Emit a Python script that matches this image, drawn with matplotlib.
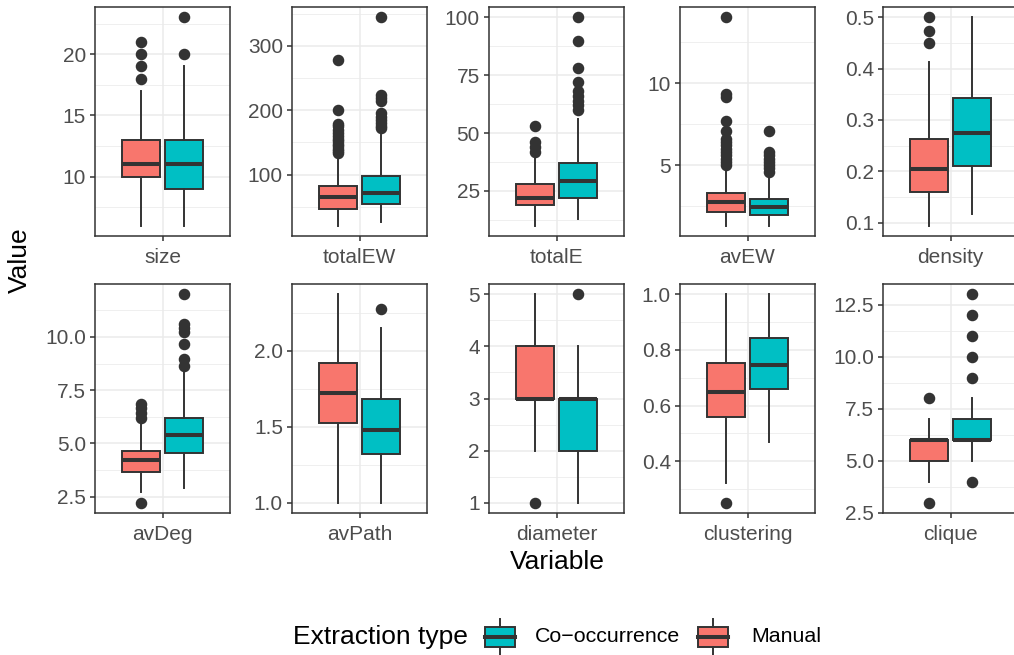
import matplotlib
matplotlib.use('Agg')
import matplotlib.pyplot as plt
from matplotlib.ticker import MultipleLocator, FormatStrFormatter
from matplotlib.patches import Rectangle

plt.rcParams['font.family'] = ['Liberation Sans', 'DejaVu Sans']

MANUAL_COL = '#F8766D'
COOC_COL = '#00BFC4'
LINE_COL = '#333333'

variables = ['size', 'totalEW', 'totalE', 'avEW', 'density',
             'avDeg', 'avPath', 'diameter', 'clustering', 'clique']

# box summaries, Manual extraction
manual_lo = [6, 21, 10, 1.32, 0.094, 2.7, 1.0, 2, 0.322, 4]
manual_q1 = [10, 47, 19, 2.15, 0.160, 3.68, 1.525, 3, 0.558, 5]
manual_med = [11, 65, 22, 2.77, 0.204, 4.21, 1.726, 3, 0.648, 6]
manual_q3 = [13, 82, 28, 3.32, 0.2625, 4.65, 1.92, 4, 0.752, 6]
manual_hi = [17, 130, 40, 4.8, 0.414, 5.95, 2.373, 5, 1.0, 7]
manual_out = [[18, 19, 20, 21],
              [133, 136, 140, 144, 148, 152, 156, 160, 165, 170, 175, 178, 200, 278],
              [42, 44, 46, 53],
              [5.0, 5.2, 5.4, 5.6, 5.8, 6.0, 6.2, 6.4, 6.6, 7.1, 7.7, 9.15, 9.35, 14.0],
              [0.45, 0.474, 0.5],
              [2.22, 6.19, 6.42, 6.66, 6.85],
              [],
              [1],
              [0.251],
              [3, 8]]

# box summaries, Co-occurrence extraction
cooc_lo = [6, 27, 13, 1.32, 0.117, 2.89, 1.0, 1, 0.468, 5]
cooc_q1 = [9, 55, 22, 1.96, 0.21, 4.54, 1.318, 2, 0.658, 6]
cooc_med = [11, 72, 29.3, 2.47, 0.275, 5.4, 1.48, 3, 0.746, 6]
cooc_q3 = [13, 98.5, 37, 2.91, 0.343, 6.19, 1.682, 3, 0.844, 7]
cooc_hi = [19, 162, 56, 4.45, 0.5, 8.42, 2.15, 4, 1.0, 8]
cooc_out = [[20, 23],
            [172, 176, 180, 185, 190, 196, 215, 219, 224, 344],
            [60, 62, 64, 66, 68, 72, 78, 90, 100],
            [4.6, 4.8, 5.0, 5.2, 5.4, 5.6, 5.8, 7.1],
            [],
            [8.65, 8.98, 9.67, 10.22, 10.43, 10.6, 12.0],
            [2.278],
            [5],
            [],
            [4, 9, 10, 11, 12, 13]]

tick_step = [5, 100, 25, 5, 0.1, 2.5, 0.5, 1, 0.2, 2.5]
tick_fmt = ['%d', '%d', '%d', '%d', '%.1f', '%.1f', '%.1f', '%d', '%.1f', '%.1f']

W, H = 1014, 655
col_left = [95, 292, 489, 680, 883]
row_top = [7, 284]
pw, ph = 135, 229

fig = plt.figure(figsize=(W / 100, H / 100), dpi=100)

for i, var in enumerate(variables):
    r, c = divmod(i, 5)
    ax = fig.add_axes([col_left[c] / W, 1 - (row_top[r] + ph) / H, pw / W, ph / H])

    stats = [
        dict(med=manual_med[i], q1=manual_q1[i], q3=manual_q3[i],
             whislo=manual_lo[i], whishi=manual_hi[i], fliers=manual_out[i]),
        dict(med=cooc_med[i], q1=cooc_q1[i], q3=cooc_q3[i],
             whislo=cooc_lo[i], whishi=cooc_hi[i], fliers=cooc_out[i]),
    ]
    bp = ax.bxp(stats, positions=[1 - 0.1875, 1 + 0.1875], widths=0.3375,
                patch_artist=True, showcaps=False,
                boxprops=dict(edgecolor=LINE_COL, linewidth=1.4),
                medianprops=dict(color=LINE_COL, linewidth=2.9),
                whiskerprops=dict(color=LINE_COL, linewidth=1.4),
                flierprops=dict(marker='o', markerfacecolor=LINE_COL,
                                markeredgecolor=LINE_COL, markersize=7.3))
    for patch, col in zip(bp['boxes'], [MANUAL_COL, COOC_COL]):
        patch.set_facecolor(col)

    # y range with 5% padding on both sides
    vals = [manual_lo[i], manual_hi[i], cooc_lo[i], cooc_hi[i]] + manual_out[i] + cooc_out[i]
    lo, hi = min(vals), max(vals)
    pad = (hi - lo) * 0.05
    ax.set_ylim(lo - pad, hi + pad)
    ax.set_xlim(0.4, 1.6)
    ax.set_xticks([1])
    ax.set_xticklabels([var])

    ax.yaxis.set_major_locator(MultipleLocator(tick_step[i]))
    ax.yaxis.set_minor_locator(MultipleLocator(tick_step[i] / 2))
    ax.yaxis.set_major_formatter(FormatStrFormatter(tick_fmt[i]))

    ax.set_axisbelow(True)
    ax.grid(which='major', color='#EBEBEB', linewidth=1.1)
    ax.grid(which='minor', axis='y', color='#EBEBEB', linewidth=0.55)
    for s in ax.spines.values():
        s.set_color(LINE_COL)
        s.set_linewidth(1.1)
    ax.tick_params(which='major', length=3.5, width=1.1, color=LINE_COL,
                   labelcolor='#4D4D4D', labelsize=15, pad=3)
    ax.tick_params(axis='x', which='major', pad=5)
    ax.tick_params(which='minor', length=0)

fig.text(20 / W, 1 - 260 / H, 'Value', rotation=90, fontsize=19,
         ha='center', va='center')
fig.text(557 / W, 1 - 562 / H, 'Variable', fontsize=19, ha='center', va='center')

# legend drawn in pixel coordinates
leg = fig.add_axes([0, 0, 1, 1])
leg.set_xlim(0, W)
leg.set_ylim(H, 0)
leg.axis('off')
leg.text(293, 637, 'Extraction type', fontsize=19, ha='left', va='center')
for x0, col, label, tx in [(485, COOC_COL, 'Co\u2212occurrence', 535),
                           (698, MANUAL_COL, 'Manual', 751)]:
    leg.plot([x0 + 15, x0 + 15], [619, 627], color=LINE_COL, lw=1.4)
    leg.plot([x0 + 15, x0 + 15], [647, 655], color=LINE_COL, lw=1.4)
    leg.add_patch(Rectangle((x0, 627), 30, 20, facecolor=col,
                            edgecolor=LINE_COL, lw=1.4))
    leg.plot([x0, x0 + 30], [637, 637], color=LINE_COL, lw=2.9)
    leg.text(tx, 637, label, fontsize=15.4, ha='left', va='center')

fig.savefig('out.png', dpi=100)
